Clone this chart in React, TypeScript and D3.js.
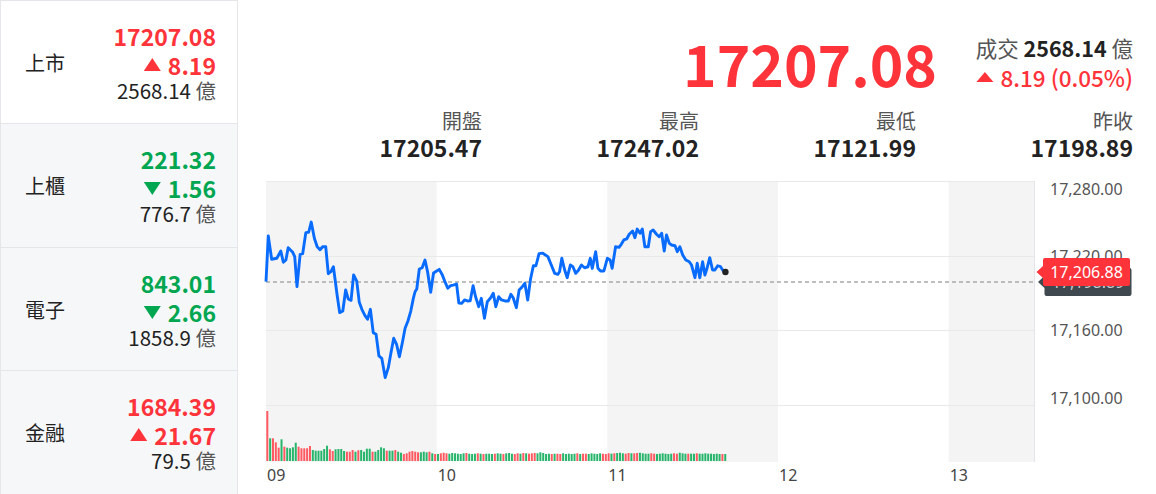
import React, { useEffect, useRef } from "react";
import * as d3 from "d3";

const W = 1156;
const H = 494;

// ---------- side panel data ----------
const panelNames = ["上市", "上櫃", "電子", "金融"];
const panelValues = ["17207.08", "221.32", "843.01", "1684.39"];
const panelChanges = ["8.19", "1.56", "2.66", "21.67"];
const panelDirections = ["up", "down", "down", "up"];
const panelVolumes = ["2568.14", "776.7", "1858.9", "79.5"];

// ---------- header data ----------
const headlinePrice = "17207.08";
const headlineVolume = "2568.14";
const headlineChange = "8.19 (0.05%)";
const statLabels = ["開盤", "最高", "最低", "昨收"];
const statValues = ["17205.47", "17247.02", "17121.99", "17198.89"];

// ---------- chart data ----------
const prevClose = 17198.89;
const lastPrice = 17206.88;
const yTicks = [17100, 17160, 17220, 17280];
const hourLabels = ["09", "10", "11", "12", "13"];
const sessionMinutes = 270; // 09:00 - 13:30

// minutes after 09:00
const priceMinutes = [
  0, 0.8, 2.0, 3.8, 5.2, 6.1, 7.0, 7.8, 9.4, 10.1, 10.9, 12.0, 12.9, 14.0, 15.0, 15.9, 17.0, 18.0, 19.0, 19.9,
  21.0, 21.9, 22.8, 23.7, 25.0, 25.9, 27.0, 28.0, 28.9, 29.9, 30.8, 31.9, 32.8, 33.7, 34.8, 35.7, 36.7, 37.7, 38.7, 39.7,
  40.7, 41.9, 43.0, 43.9, 44.9, 45.9, 46.9, 47.9, 48.9, 49.9, 50.9, 51.8, 52.4, 53.0, 53.9, 54.9, 55.9, 56.8, 57.9, 58.9,
  60.0, 60.9, 62.0, 62.9, 63.9, 64.9, 65.8, 67.0, 67.8, 68.8, 69.8, 70.8, 71.8, 72.8, 73.7, 74.8, 75.7, 76.8, 77.8, 79.0,
  79.9, 80.8, 81.8, 82.8, 84.0, 85.2, 86.1, 86.9, 88.0, 89.0, 90.1, 91.0, 92.0, 93.0, 94.0, 94.9, 96.0, 97.3, 99.1, 100.3,
  101.5, 102.6, 103.2, 104.0, 105.0, 105.9, 107.0, 107.9, 108.9, 109.9, 110.9, 112.0, 113.2, 114.0, 114.7, 115.9, 116.7, 117.6, 118.8, 120.0,
  121.0, 121.7, 122.9, 124.1, 124.9, 125.8, 126.8, 127.7, 128.9, 129.7, 130.5, 131.5, 132.3, 133.2, 134.4, 135.2, 136.1, 137.3, 138.2, 139.1,
  140.0, 140.8, 141.8, 142.6, 143.8, 144.6, 145.5, 146.5, 147.6, 148.8, 149.6, 150.8, 151.6, 152.5, 153.5, 154.3, 155.1, 156.0, 157.0, 157.8,
  158.8, 159.8, 161.0,
];
const priceValues = [
  17199.1, 17235.8, 17217.1, 17217.9, 17223.7, 17214.7, 17216.5, 17226.4, 17222.7, 17219.2, 17195.1, 17221.1, 17221.6, 17238.5, 17238.8, 17247.0, 17234.0, 17227.2, 17224.8, 17227.2,
  17227.2, 17205.5, 17207.1, 17211.1, 17188.4, 17174.2, 17175.5, 17192.4, 17185.2, 17184.1, 17204.5, 17199.6, 17182.5, 17176.9, 17171.8, 17168.9, 17176.9, 17158.1, 17156.8, 17139.4,
  17137.5, 17122.0, 17130.0, 17141.5, 17153.6, 17148.8, 17138.8, 17149.6, 17161.6, 17167.5, 17175.5, 17185.7, 17191.0, 17193.2, 17209.3, 17210.3, 17216.5, 17207.1, 17190.6, 17206.1,
  17207.7, 17209.0, 17204.5, 17199.1, 17193.8, 17195.9, 17196.4, 17197.2, 17182.0, 17181.7, 17184.4, 17183.6, 17183.8, 17195.9, 17186.8, 17179.0, 17185.7, 17169.7, 17183.0, 17186.2,
  17189.8, 17179.0, 17187.0, 17184.4, 17183.6, 17183.6, 17189.0, 17186.2, 17178.2, 17192.4, 17195.1, 17197.8, 17184.4, 17201.2, 17211.9, 17211.9, 17221.6, 17222.0, 17219.2, 17212.5,
  17205.8, 17205.0, 17207.1, 17217.9, 17208.5, 17202.3, 17212.5, 17211.1, 17205.8, 17208.5, 17212.5, 17210.3, 17211.1, 17217.9, 17209.8, 17223.2, 17209.8, 17207.7, 17207.7, 17217.9,
  17216.5, 17209.8, 17227.2, 17226.7, 17229.1, 17232.6, 17233.4, 17237.2, 17239.8, 17234.4, 17241.4, 17238.0, 17241.4, 17227.2, 17227.2, 17239.3, 17240.6, 17237.2, 17235.2, 17238.0,
  17223.7, 17236.6, 17229.9, 17228.6, 17228.0, 17223.2, 17227.2, 17220.5, 17216.5, 17215.1, 17212.5, 17202.3, 17213.9, 17202.3, 17215.1, 17204.5, 17210.3, 17218.4, 17208.5, 17208.5,
  17211.9, 17211.1, 17206.88,
];

// per-minute volume (minute 0 .. 161)
const volumes = [
  50, 22.7, 22.7, 18.7, 13.3, 21.7, 14.3, 13.3, 12.7, 13.7, 18.3, 14.3, 12.7, 12.7, 12.7, 15, 11, 10.3, 10.3, 10.3,
  12, 15.3, 11.7, 10, 11.7, 12, 12, 10, 9.3, 9.3, 11, 9.3, 10.7, 11, 9.3, 12.3, 12.3, 9.3, 9.3, 11,
  13.7, 12.7, 10.3, 10.3, 10.3, 11, 9.3, 8.3, 7, 7.7, 9.3, 10, 9.3, 8.7, 8.7, 9.3, 8.7, 9.3, 7.7, 7,
  7, 7.7, 8.3, 7.7, 7.3, 8, 7.7, 7.3, 7, 7.7, 8, 7.3, 7, 7.3, 7.7, 7.3, 7, 7.3, 7.3, 7,
  7.3, 7.7, 7.3, 7, 7.7, 8, 7.3, 7, 7.7, 7.3, 8, 7.7, 7.3, 7.7, 8, 7.7, 8.7, 8, 7, 7.3,
  7, 7.3, 7.3, 7, 7.7, 7, 7.3, 7, 7.3, 7.7, 7, 7.3, 7.3, 7, 7.7, 7.3, 7, 7.7, 7.3, 7,
  7.7, 7.3, 7.7, 8, 8.3, 7.7, 7.3, 8, 7.7, 7.7, 8, 8.3, 7.7, 7.3, 7.3, 7.7, 7.3, 7, 7.3, 7.7,
  7.3, 7, 7.3, 7.7, 7.3, 8.3, 7.7, 7.3, 7.3, 7.3, 7.3, 7.7, 7.3, 7.3, 7.7, 7.3, 7.3, 7, 7.3, 7,
  7, 7,
];
const volumeDirections = (
  "RGRRRGRGGG" + "GRRRRRGGGG" + "GGRRGGGGRR" + "RGRGGGGRGG" + "GGRGGRGGRR" + "RRRRGGGRGR" + "GR" +
  "RRGGGGGGRG" + "GGRGRGGGRG" + "GRGGGRRGRG" + "RRRGGGGGRG" + "RRGGGGGRGR" +
  "RGGGGGRRRG" + "RGGGRRGRRG" + "GGGRRGGGGG" + "GRRGGGRGGR" + "GGGGGGGGRG"
).split("");

const RED = "#ff333a";
const GREEN = "#00a650";
const DARK = "#222222";
const GRAY = "#555555";
const CJK = "'Noto Sans CJK TC', 'Noto Sans', sans-serif";
const LATIN = "'Noto Sans', 'Open Sans', sans-serif";

export default function App() {
  const ref = useRef<SVGSVGElement>(null);

  useEffect(() => {
    const svg = d3.select(ref.current);
    svg.selectAll("*").remove();

    // ---------- side panel ----------
    const rowTops = [0, 123, 247, 370, H];
    const panel = svg.append("g");
    panelNames.forEach((name, i) => {
      const top = rowTops[i];
      const h = rowTops[i + 1] - top;
      panel.append("rect").attr("x", 0.5).attr("y", top + 0.5).attr("width", 237).attr("height", h)
        .attr("fill", i === 0 ? "#ffffff" : "#f6f7f9").attr("stroke", "#e4e6ea");
      const color = panelDirections[i] === "up" ? RED : GREEN;
      panel.append("text").attr("x", 25).attr("y", top + 62).attr("dominant-baseline", "central")
        .attr("font-family", CJK).attr("font-size", 20).attr("fill", DARK).text(name);
      panel.append("text").attr("x", 216).attr("y", top + 36).attr("dominant-baseline", "central")
        .attr("text-anchor", "end").attr("font-family", CJK).attr("font-weight", 700).attr("font-size", 23)
        .attr("fill", color).text(panelValues[i]);
      const ch = panel.append("text").attr("x", 216).attr("y", top + 65).attr("dominant-baseline", "central")
        .attr("text-anchor", "end").attr("font-family", CJK).attr("font-weight", 700).attr("font-size", 23)
        .attr("fill", color).text(panelChanges[i]);
      const w = (ch.node() as SVGTextElement).getComputedTextLength();
      const tr = 216 - w - 7;
      const ty = top + 65;
      const tri = panelDirections[i] === "up"
        ? `M${tr - 17},${ty + 6} L${tr},${ty + 6} L${tr - 8.5},${ty - 7} Z`
        : `M${tr - 17},${ty - 6} L${tr},${ty - 6} L${tr - 8.5},${ty + 7} Z`;
      panel.append("path").attr("d", tri).attr("fill", color);
      const vt = panel.append("text").attr("x", 216).attr("y", top + 90).attr("dominant-baseline", "central")
        .attr("text-anchor", "end").attr("font-family", CJK).attr("font-size", 20.5);
      vt.append("tspan").attr("fill", DARK).text(panelVolumes[i] + " ");
      vt.append("tspan").attr("fill", GRAY).text("億");
    });

    // ---------- header ----------
    svg.append("text").attr("x", 937).attr("y", 62).attr("dominant-baseline", "central").attr("text-anchor", "end")
      .attr("font-family", CJK).attr("font-weight", 700).attr("font-size", 57).attr("fill", RED).text(headlinePrice);
    const vol = svg.append("text").attr("x", 1133).attr("y", 47).attr("dominant-baseline", "central")
      .attr("text-anchor", "end").attr("font-family", CJK).attr("font-size", 21.5);
    vol.append("tspan").attr("fill", GRAY).text("成交 ");
    vol.append("tspan").attr("fill", DARK).attr("font-weight", 700).text(headlineVolume);
    vol.append("tspan").attr("fill", GRAY).text(" 億");
    const hc = svg.append("text").attr("x", 1133).attr("y", 77).attr("dominant-baseline", "central")
      .attr("text-anchor", "end").attr("font-family", CJK).attr("font-weight", 500).attr("font-size", 22.5)
      .attr("fill", RED).text(headlineChange);
    const hw = (hc.node() as SVGTextElement).getComputedTextLength();
    const hr = 1133 - hw - 7;
    svg.append("path").attr("d", `M${hr - 17},${82} L${hr},${82} L${hr - 8.5},${72} Z`).attr("fill", RED);

    const statX = [482, 699, 916, 1133];
    statLabels.forEach((lab, i) => {
      svg.append("text").attr("x", statX[i]).attr("y", 120).attr("dominant-baseline", "central")
        .attr("text-anchor", "end").attr("font-family", CJK).attr("font-size", 20).attr("fill", GRAY).text(lab);
      svg.append("text").attr("x", statX[i]).attr("y", 147).attr("dominant-baseline", "central")
        .attr("text-anchor", "end").attr("font-family", CJK).attr("font-weight", 700).attr("font-size", 23)
        .attr("fill", DARK).text(statValues[i]);
    });

    // ---------- chart ----------
    const left = 266, right = 1034, top = 181, priceBottom = 405, volBottom = 461, plotBottom = 462;
    const x = d3.scaleLinear().domain([0, sessionMinutes]).range([left, right]);
    const y = d3.scaleLinear().domain([yTicks[0], yTicks[yTicks.length - 1]]).range([priceBottom, top]);
    const yv = d3.scaleLinear().domain([0, 56]).range([volBottom, priceBottom]);

    const chart = svg.append("g");
    // alternating hour bands
    const bandStarts = d3.range(0, sessionMinutes, 60);
    bandStarts.forEach((s, i) => {
      if (i % 2 === 0) {
        const e = Math.min(s + 60, sessionMinutes);
        chart.append("rect").attr("x", x(s)).attr("y", top).attr("width", x(e) - x(s))
          .attr("height", plotBottom - top).attr("fill", "#f4f4f4");
      }
    });
    yTicks.forEach((t) => {
      chart.append("line").attr("x1", left).attr("x2", right).attr("y1", Math.round(y(t)) + 0.5)
        .attr("y2", Math.round(y(t)) + 0.5).attr("stroke", "#e9e9e9").attr("stroke-width", 1);
    });
    chart.append("line").attr("x1", right + 0.5).attr("x2", right + 0.5).attr("y1", top).attr("y2", plotBottom)
      .attr("stroke", "#e3e5ea");

    // volume bars
    volumes.forEach((v, m) => {
      const dir = volumeDirections[m];
      chart.append("rect").attr("x", x(m) + 0.3).attr("y", yv(v)).attr("width", 2)
        .attr("height", volBottom - yv(v)).attr("fill", dir === "R" ? "#ff5a62" : "#27b56c");
    });

    // previous close
    chart.append("line").attr("x1", left).attr("x2", right).attr("y1", y(prevClose)).attr("y2", y(prevClose))
      .attr("stroke", "#a9a9a9").attr("stroke-width", 1.5).attr("stroke-dasharray", "4,3");

    // price line
    const pts: [number, number][] = priceMinutes.map((m, i) => [m, priceValues[i]]);
    const line = d3.line<[number, number]>().x((d) => x(d[0])).y((d) => y(d[1]));
    chart.append("path").attr("d", line(pts) as string).attr("fill", "none").attr("stroke", "#0a6cff")
      .attr("stroke-width", 2.9).attr("stroke-linejoin", "round");
    const lastPt = pts[pts.length - 1];
    chart.append("circle").attr("cx", x(lastPt[0]) + 1.5).attr("cy", y(lastPt[1])).attr("r", 3.2).attr("fill", "#222");

    // y labels
    const fmt = d3.format(",.2f");
    yTicks.forEach((t, i) => {
      let yy = y(t);
      if (i === yTicks.length - 1) yy += 8;
      if (i === 0) yy -= 7;
      chart.append("text").attr("x", 1050).attr("y", yy).attr("dominant-baseline", "central")
        .attr("font-family", LATIN).attr("font-size", 16).attr("fill", "#555").text(fmt(t));
    });

    // price tags
    const tag = (val: number, fill: string, textFill: string, dx: number) => {
      const cy = y(val);
      const g = chart.append("g");
      const x0 = 1043 + dx, x1 = 1130 + dx;
      g.append("path")
        .attr("d", `M${x0 - 6.5},${cy} L${x0},${cy - 6} L${x0},${cy - 12} Q${x0},${cy - 14} ${x0 + 2},${cy - 14} L${x1 - 2},${cy - 14} Q${x1},${cy - 14} ${x1},${cy - 12} L${x1},${cy + 12} Q${x1},${cy + 14} ${x1 - 2},${cy + 14} L${x0 + 2},${cy + 14} Q${x0},${cy + 14} ${x0},${cy + 12} L${x0},${cy + 6} Z`)
        .attr("fill", fill);
      g.append("text").attr("x", (x0 + x1) / 2).attr("y", cy).attr("dominant-baseline", "central")
        .attr("text-anchor", "middle").attr("font-family", LATIN).attr("font-size", 16).attr("fill", textFill)
        .text(fmt(val));
    };
    tag(prevClose, "#3f474f", "#c9ccd0", 1.5);
    tag(lastPrice, "#ff333a", "#ffffff", 0);

    // x labels
    hourLabels.forEach((lab, i) => {
      chart.append("text").attr("x", x(i * 60) + 1).attr("y", 475).attr("dominant-baseline", "central")
        .attr("font-family", LATIN).attr("font-size", 16).attr("fill", "#444").text(lab);
    });
  }, []);

  return (
    <svg ref={ref} width={W} height={H} style={{ position: "absolute", left: 0, top: 0, background: "#fff" }} />
  );
}
